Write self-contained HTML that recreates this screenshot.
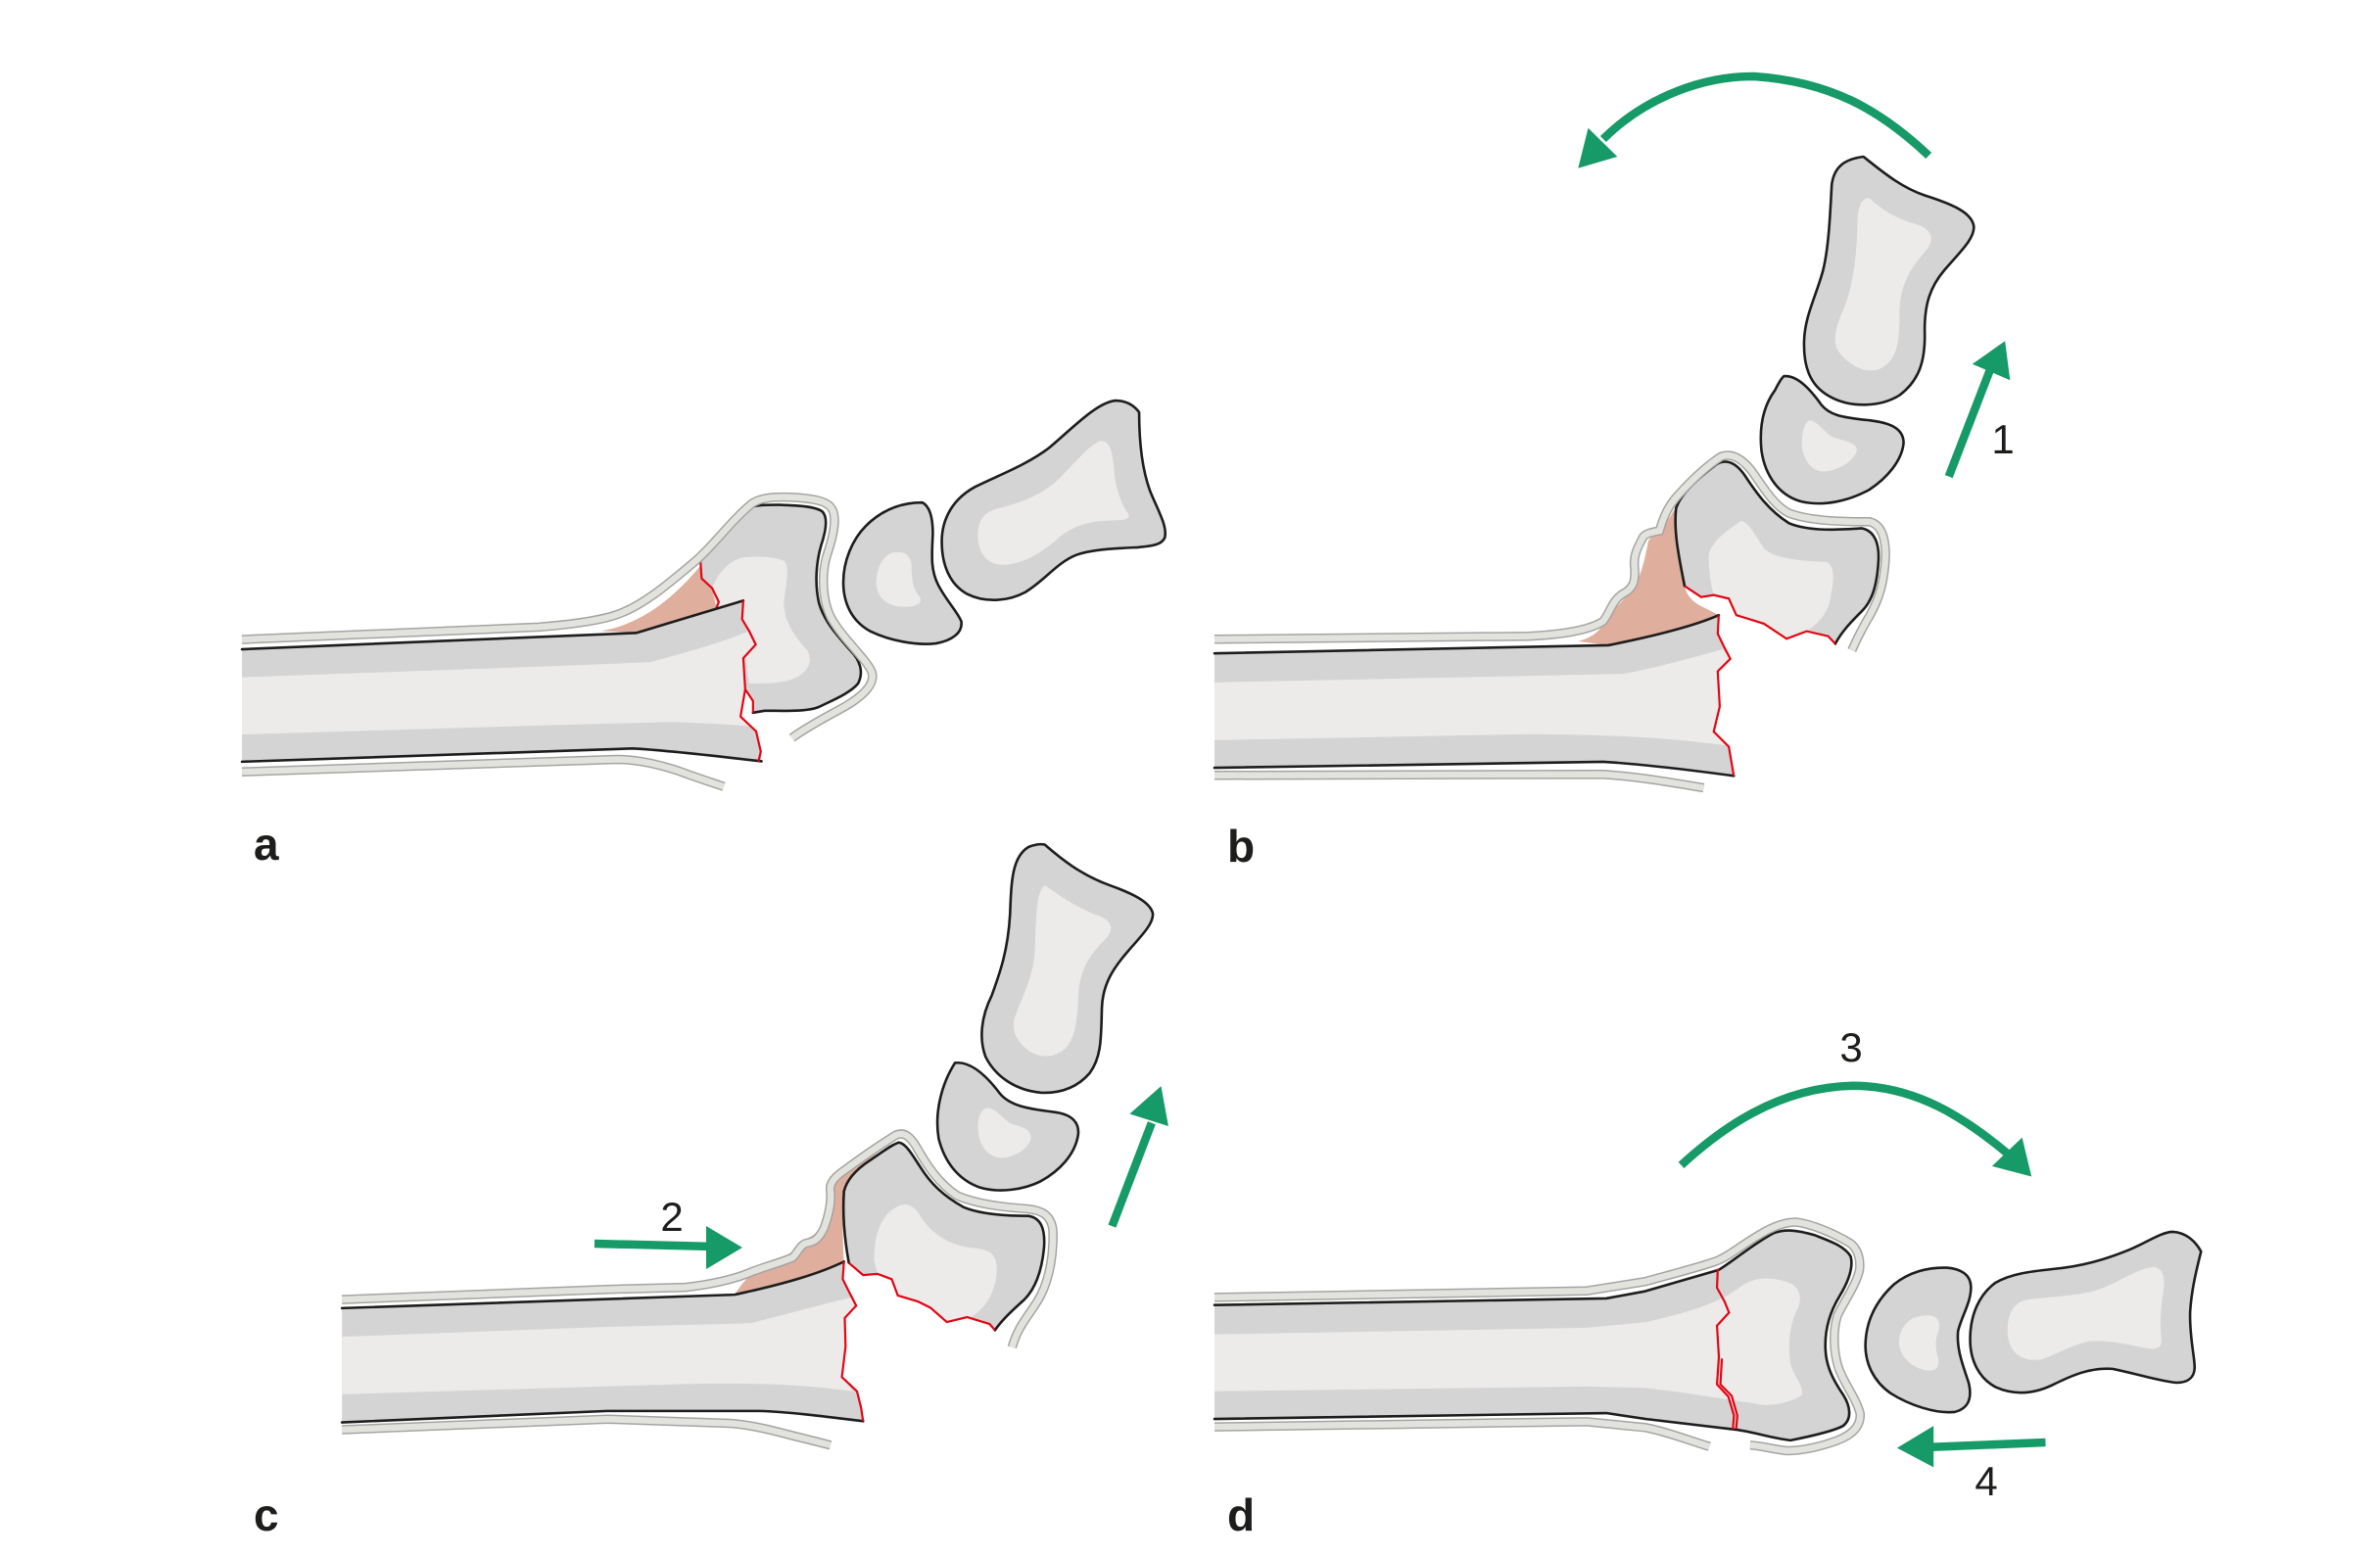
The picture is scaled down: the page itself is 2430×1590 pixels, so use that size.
<!DOCTYPE html>
<html><head><meta charset="utf-8"><style>
html,body{margin:0;padding:0;background:#fff;}
svg{display:block;}
.o{fill:#d5d4d5;stroke:none}
.i{fill:#ecebea;stroke:none}
.k{fill:none;stroke:#1d1d1b;stroke-width:2.6;stroke-linejoin:round;stroke-linecap:round;vector-effect:non-scaling-stroke}
.r{fill:none;stroke:#e30613;stroke-width:2.2;stroke-linejoin:miter;vector-effect:non-scaling-stroke}
.sg{fill:none;stroke:#a4a4a4;stroke-width:9.5;vector-effect:non-scaling-stroke}
.sl{fill:none;stroke:#e3e3de;stroke-width:6.5;vector-effect:non-scaling-stroke}
.p{fill:#dfae9c;stroke:none}
.g{fill:#169a67;stroke:none}
.gs{fill:none;stroke:#169a67;stroke-width:8.5;vector-effect:non-scaling-stroke}
.lb{font-family:"Liberation Sans",sans-serif;font-weight:bold;font-size:46px;fill:#1d1d1b}
.nm{font-family:"Liberation Sans",sans-serif;font-size:42px;fill:#1d1d1b;text-anchor:middle}
</style></head><body>
<svg width="2430" height="1590" viewBox="0 0 2430 1590" xmlns="http://www.w3.org/2000/svg">
<rect width="2430" height="1590" fill="#fff"/>

<!-- ===== Panel a ===== -->
<g transform="translate(590,390) scale(0.3974)">
  <path class="p" d="M60,640 C150,625 230,570 300,490 C340,445 370,405 395,370 L405,352 L315,460 L318,505 L345,530 L362,565 L352,592 L150,645 Z"/>
  <!-- fragment -->
  <path class="o" d="M315,460 C350,420 390,360 420,335 C440,318 460,315 520,316 C570,318 610,320 628,333 C645,350 635,390 625,420 C612,465 608,520 620,570 C635,620 670,655 700,690 C725,715 735,745 720,775 C700,800 650,820 620,835 C590,848 530,845 480,845 L450,850 L448,820 L436,798 L430,790 L425,700 L425,560 L352,592 L362,565 L345,530 L318,505 Z"/>
  <path class="i" d="M345,530 C360,490 390,460 420,452 C460,446 510,450 530,460 C545,475 535,520 530,560 C525,610 560,660 590,690 C605,720 590,745 560,760 C530,775 480,775 440,775 L430,700 L360,600 Z"/>
  <path class="k" d="M315,460 C350,420 390,360 420,335 C440,318 460,315 520,316 C570,318 610,320 628,333 C645,350 635,390 625,420 C612,465 608,520 620,570 C635,620 670,655 700,690 C725,715 735,745 720,775 C700,800 650,820 620,835 C590,848 530,845 480,845 L450,850"/>
  <path class="r" d="M315,460 L318,505 L345,530 L362,565 L352,592"/>
  <path class="r" d="M430,790 L440,805 L450,820 L450,850"/>
  <!-- shaft -->
  <path class="o" d="M-863,687 L150,645 L425,562 L422,610 L440,640 L457,675 L425,710 L430,790 L418,860 L458,898 L470,950 L472,975 C380,965 250,948 140,942 L-863,976 Z"/>
  <path class="i" d="M-863,759 L0,728 L185,720 C300,690 380,665 440,640 L457,675 L425,710 L430,790 L418,860 L444,885 C350,878 250,872 200,875 L0,880 L-863,906 Z"/>
  <path class="k" d="M-863,687 L150,645 L425,562"/>
  <path class="k" d="M-863,976 L140,942 C250,948 380,965 472,975"/>
  <path class="r" d="M425,562 L422,610 L440,640 L457,675 L425,710 L430,790 L418,860 L458,898 L470,950 L464,975"/>
  <!-- skin -->
  <path class="sg" d="M-863,662 L-100,630 C0,622 60,612 100,598 C160,578 220,530 300,462 C350,420 390,360 448,312 C470,298 500,294 560,297 C600,300 640,305 652,325 C668,350 655,400 640,445 C625,495 628,560 650,605 C680,660 740,710 755,745 C765,775 735,805 690,832 C650,855 590,885 550,915"/>
  <path class="sl" d="M-863,662 L-100,630 C0,622 60,612 100,598 C160,578 220,530 300,462 C350,420 390,360 448,312 C470,298 500,294 560,297 C600,300 640,305 652,325 C668,350 655,400 640,445 C625,495 628,560 650,605 C680,660 740,710 755,745 C765,775 735,805 690,832 C650,855 590,885 550,915"/>
  <path class="sg" d="M-863,1002 L100,970 C150,970 200,980 260,1000 C300,1015 340,1028 375,1040"/>
  <path class="sl" d="M-863,1002 L100,970 C150,970 200,980 260,1000 C300,1015 340,1028 375,1040"/>
  <!-- carpal -->
  <path class="o" d="M885,310 C905,320 912,350 912,390 C910,440 905,480 925,520 C945,560 975,590 985,615 C990,645 960,665 920,672 C870,678 800,665 750,640 C705,615 682,570 682,515 C682,460 705,405 740,370 C780,330 830,310 885,310 Z"/>
  <path class="i" d="M805,440 C830,432 855,440 857,470 C858,510 860,530 878,552 C888,568 870,578 840,578 C800,578 775,560 768,530 C762,490 780,450 805,440 Z"/>
  <path class="k" d="M885,310 C905,320 912,350 912,390 C910,440 905,480 925,520 C945,560 975,590 985,615 C990,645 960,665 920,672 C870,678 800,665 750,640 C705,615 682,570 682,515 C682,460 705,405 740,370 C780,330 830,310 885,310 Z"/>
  <!-- metacarpal -->
  <path class="o" d="M1380,48 C1410,48 1430,62 1442,78 C1442,150 1448,220 1470,280 C1490,330 1515,370 1508,400 C1500,420 1470,422 1440,425 C1380,428 1320,430 1280,445 C1230,465 1200,510 1150,540 C1110,562 1050,570 1000,545 C955,520 935,470 935,410 C935,350 965,300 1020,270 C1080,240 1150,215 1210,170 C1270,120 1330,55 1380,48 Z"/>
  <path class="i" d="M1345,152 C1370,152 1375,190 1378,230 C1382,280 1400,320 1415,340 C1418,355 1400,355 1370,356 C1310,358 1270,370 1230,405 C1190,440 1140,470 1090,470 C1050,468 1030,440 1028,400 C1026,360 1040,335 1080,325 C1130,312 1190,295 1240,245 C1280,205 1320,155 1345,152 Z"/>
  <path class="k" d="M1380,48 C1410,48 1430,62 1442,78 C1442,150 1448,220 1470,280 C1490,330 1515,370 1508,400 C1500,420 1470,422 1440,425 C1380,428 1320,430 1280,445 C1230,465 1200,510 1150,540 C1110,562 1050,570 1000,545 C955,520 935,470 935,410 C935,350 965,300 1020,270 C1080,240 1150,215 1210,170 C1270,120 1330,55 1380,48 Z"/>
</g>
<text class="lb" x="259" y="878">a</text>

<!-- ===== Panel b ===== -->
<g transform="translate(1560,60) scale(0.5128)">
  <path class="p" d="M100,1160 L160,1168 C250,1150 330,1130 380,1108 L345,1090 C325,1080 315,1065 312,1050 C300,990 290,940 295,895 L290,900 C275,930 250,945 240,960 C232,1000 225,1035 205,1060 C185,1085 165,1100 150,1125 C140,1145 120,1155 100,1160 Z"/>
  <!-- fragment -->
  <path class="o" d="M312,1050 C300,990 290,940 295,895 C305,865 340,835 375,808 C395,795 415,805 432,830 C455,865 480,900 520,925 C560,942 620,938 665,935 C690,940 700,965 698,1000 C695,1050 685,1080 665,1100 C645,1120 625,1140 612,1165 L598,1150 L555,1140 L515,1155 L470,1125 L415,1108 L400,1075 L370,1068 L345,1072 Z"/>
  <path class="i" d="M360,990 C362,970 380,950 425,920 C440,925 450,945 470,975 C490,995 540,1000 595,1002 C612,1010 610,1040 600,1085 C590,1115 570,1130 555,1140 L515,1155 L470,1125 L415,1108 L400,1075 L370,1068 C362,1040 360,1010 360,990 Z"/>
  <path class="k" d="M312,1050 C300,990 290,940 295,895 C305,865 340,835 375,808 C395,795 415,805 432,830 C455,865 480,900 520,925 C560,942 620,938 665,935 C690,940 700,965 698,1000 C695,1050 685,1080 665,1100 C645,1120 625,1140 612,1165"/>
  <path class="r" d="M612,1165 L598,1150 L555,1140 L515,1155 L470,1125 L415,1108 L400,1075 L370,1068 L345,1072 L312,1050"/>
  <!-- shaft -->
  <path class="o" d="M-624,1184 L160,1168 C250,1150 330,1130 380,1108 L378,1145 L390,1170 L403,1195 L378,1220 L382,1290 L370,1340 L400,1370 L410,1428 C300,1415 200,1402 150,1400 L-624,1412 Z"/>
  <path class="i" d="M-624,1242 L190,1225 C260,1212 330,1192 388,1176 L403,1195 L378,1220 L382,1290 L370,1340 L398,1368 C300,1355 200,1346 0,1345 L-624,1357 Z"/>
  <path class="k" d="M-624,1184 L160,1168 C250,1150 330,1130 380,1108"/>
  <path class="k" d="M-624,1412 L150,1400 C220,1404 320,1416 410,1428"/>
  <path class="r" d="M380,1108 L378,1145 L390,1170 L403,1195 L378,1220 L382,1290 L370,1340 L400,1370 L410,1428"/>
  <!-- skin -->
  <path class="sg" d="M-624,1156 L0,1150 C60,1147 120,1140 150,1120 C165,1100 168,1078 190,1065 C210,1055 215,1040 212,1010 C210,985 222,968 228,955 C232,945 250,942 262,940 C268,920 275,895 300,868 C330,835 360,808 385,792 C405,785 425,795 445,820 C470,855 490,890 520,905 C560,920 620,922 680,922 C705,928 712,955 712,990 C710,1040 700,1075 680,1110 C665,1135 655,1155 645,1178"/>
  <path class="sl" d="M-624,1156 L0,1150 C60,1147 120,1140 150,1120 C165,1100 168,1078 190,1065 C210,1055 215,1040 212,1010 C210,985 222,968 228,955 C232,945 250,942 262,940 C268,920 275,895 300,868 C330,835 360,808 385,792 C405,785 425,795 445,820 C470,855 490,890 520,905 C560,920 620,922 680,922 C705,928 712,955 712,990 C710,1040 700,1075 680,1110 C665,1135 655,1155 645,1178"/>
  <path class="sg" d="M-624,1427 L150,1425 C220,1430 280,1440 350,1452"/>
  <path class="sl" d="M-624,1427 L150,1425 C220,1430 280,1440 350,1452"/>
  <!-- carpal -->
  <path class="o" d="M510,632 C535,630 560,655 585,690 C600,708 620,714 680,720 C720,725 748,735 748,765 C745,800 715,835 680,858 C640,880 590,892 545,882 C500,870 472,830 465,780 C460,730 470,690 492,660 C498,648 505,635 510,632 Z"/>
  <path class="i" d="M562,720 C578,722 590,745 610,755 C635,762 655,765 655,780 C650,800 620,820 590,822 C565,822 550,800 546,775 C544,750 550,722 562,720 Z"/>
  <path class="k" d="M510,632 C535,630 560,655 585,690 C600,708 620,714 680,720 C720,725 748,735 748,765 C745,800 715,835 680,858 C640,880 590,892 545,882 C500,870 472,830 465,780 C460,730 470,690 492,660 C498,648 505,635 510,632 Z"/>
  <!-- metacarpal -->
  <path class="o" d="M668,195 C700,220 740,255 790,272 C840,288 885,305 888,335 C888,360 860,385 830,420 C800,455 790,490 790,540 C792,600 780,640 740,670 C700,695 640,695 600,672 C560,650 548,610 550,560 C552,510 575,470 588,420 C600,370 602,300 605,250 C610,215 630,200 668,195 Z"/>
  <path class="i" d="M680,278 C705,300 730,318 775,330 C805,340 812,360 790,385 C760,420 742,450 740,500 C740,560 738,600 700,618 C670,628 640,610 620,585 C605,565 612,535 628,500 C645,460 655,400 656,330 C656,295 665,275 680,278 Z"/>
  <path class="k" d="M668,195 C700,220 740,255 790,272 C840,288 885,305 888,335 C888,360 860,385 830,420 C800,455 790,490 790,540 C792,600 780,640 740,670 C700,695 640,695 600,672 C560,650 548,610 550,560 C552,510 575,470 588,420 C600,370 602,300 605,250 C610,215 630,200 668,195 Z"/>
  <!-- arrows -->
  <path class="gs" d="M798,193 C700,100 600,45 450,35 C330,35 220,90 150,160"/>
  <polygon class="g" points="100,218 120,138 178,195"/>
  <path class="gs" d="M838,832 L920,620"/>
  <polygon class="g" points="950,562 885,608 960,640"/>
</g>
<text class="nm" x="2045" y="463">1</text>
<text class="lb" x="1253" y="880">b</text>

<!-- ===== Panel c ===== -->
<g transform="translate(700,850) scale(0.4167)">
  <path class="p" d="M120,1133 C250,1105 330,1080 388,1052 C384,990 384,930 388,880 C395,850 420,825 450,805 L500,772 C440,800 390,830 362,860 C350,880 345,930 330,965 C320,990 295,995 280,1005 C270,1025 250,1040 200,1055 C170,1070 140,1100 120,1133 Z"/>
  <!-- fragment -->
  <path class="o" d="M400,1055 C390,1000 384,940 388,880 C395,850 420,825 450,805 C480,785 505,765 522,760 C540,762 555,790 575,820 C600,860 630,890 680,918 C720,935 780,940 840,940 C870,945 882,970 878,1020 C872,1080 855,1120 830,1145 C800,1172 775,1195 758,1220 L745,1205 L690,1188 L640,1200 L600,1165 L570,1150 L520,1135 L505,1095 L470,1082 L435,1085 Z"/>
  <path class="i" d="M462,1050 C462,1000 470,960 500,930 C530,905 555,905 575,940 C600,980 640,1010 700,1018 C745,1022 765,1030 762,1080 C758,1130 735,1165 700,1188 L640,1200 L600,1165 L570,1150 L520,1135 L505,1095 L470,1082 Z"/>
  <path class="k" d="M400,1055 C390,1000 384,940 388,880 C395,850 420,825 450,805 C480,785 505,765 522,760 C540,762 555,790 575,820 C600,860 630,890 680,918 C720,935 780,940 840,940 C870,945 882,970 878,1020 C872,1080 855,1120 830,1145 C800,1172 775,1195 758,1220"/>
  <path class="r" d="M758,1220 L745,1205 L690,1188 L640,1200 L600,1165 L570,1150 L520,1135 L505,1095 L470,1082 L435,1085 L400,1055"/>
  <!-- shaft -->
  <path class="o" d="M-842,1166 L120,1133 C250,1105 330,1080 388,1052 L385,1095 L400,1125 L418,1160 L390,1190 L392,1260 L383,1335 L420,1370 L430,1410 L435,1443 C330,1430 250,1420 180,1418 L-192,1418 L-842,1446 Z"/>
  <path class="i" d="M-842,1236 L-192,1212 L160,1203 C250,1180 330,1158 405,1140 L418,1160 L390,1190 L392,1260 L383,1335 L410,1370 C300,1355 200,1348 0,1352 L-842,1377 Z"/>
  <path class="k" d="M-842,1166 L120,1133 C250,1105 330,1080 388,1052"/>
  <path class="k" d="M-842,1446 L-192,1418 L180,1418 C250,1420 330,1430 435,1443"/>
  <path class="r" d="M388,1052 L385,1095 L400,1125 L418,1160 L390,1190 L392,1260 L383,1335 L420,1370 L430,1410 L435,1443"/>
  <!-- skin -->
  <path class="sg" d="M-842,1145 L-192,1120 L0,1115 C60,1108 120,1095 162,1077 C190,1066 230,1055 262,1042 C275,1030 280,1012 295,1007 C310,1004 325,1002 340,968 C350,940 358,905 355,880 C352,865 360,850 380,835 C420,805 470,770 515,742 C535,733 550,745 565,770 C590,815 620,860 665,890 C710,910 770,918 830,922 C870,925 895,935 900,975 C902,1030 893,1090 870,1135 C850,1175 815,1205 800,1262"/>
  <path class="sl" d="M-842,1145 L-192,1120 L0,1115 C60,1108 120,1095 162,1077 C190,1066 230,1055 262,1042 C275,1030 280,1012 295,1007 C310,1004 325,1002 340,968 C350,940 358,905 355,880 C352,865 360,850 380,835 C420,805 470,770 515,742 C535,733 550,745 565,770 C590,815 620,860 665,890 C710,910 770,918 830,922 C870,925 895,935 900,975 C902,1030 893,1090 870,1135 C850,1175 815,1205 800,1262"/>
  <path class="sg" d="M-842,1464 L-192,1438 L100,1448 C150,1450 200,1462 260,1478 C300,1488 330,1495 355,1502"/>
  <path class="sl" d="M-842,1464 L-192,1438 L100,1448 C150,1450 200,1462 260,1478 C300,1488 330,1495 355,1502"/>
  <!-- carpal -->
  <path class="o" d="M660,565 C700,560 740,600 770,640 C795,670 840,678 900,685 C945,690 965,710 962,740 C955,790 915,830 870,855 C830,875 770,885 720,870 C670,852 635,810 620,750 C610,690 625,620 660,565 Z"/>
  <path class="i" d="M740,675 C765,678 778,705 800,715 C830,722 848,730 846,750 C840,775 810,795 775,798 C740,795 722,770 717,735 C714,705 720,680 740,675 Z"/>
  <path class="k" d="M660,565 C700,560 740,600 770,640 C795,670 840,678 900,685 C945,690 965,710 962,740 C955,790 915,830 870,855 C830,875 770,885 720,870 C670,852 635,810 620,750 C610,690 625,620 660,565 Z"/>
  <!-- metacarpal -->
  <path class="o" d="M880,30 C920,65 970,105 1040,130 C1090,148 1140,170 1145,200 C1145,225 1120,250 1085,290 C1050,330 1022,370 1020,430 C1018,500 1020,550 990,590 C960,625 920,640 870,638 C810,632 760,600 735,550 C718,505 725,450 750,400 C770,345 790,290 795,200 C798,120 800,60 840,36 C855,30 870,28 880,30 Z"/>
  <path class="i" d="M880,130 C910,150 950,180 1000,200 C1040,212 1055,232 1030,260 C995,295 968,330 963,390 C960,450 958,500 930,530 C905,552 870,555 840,535 C815,515 798,490 805,460 C815,420 848,370 855,300 C860,230 855,150 880,130 Z"/>
  <path class="k" d="M880,30 C920,65 970,105 1040,130 C1090,148 1140,170 1145,200 C1145,225 1120,250 1085,290 C1050,330 1022,370 1020,430 C1018,500 1020,550 990,590 C960,625 920,640 870,638 C810,632 760,600 735,550 C718,505 725,450 750,400 C770,345 790,290 795,200 C798,120 800,60 840,36 C855,30 870,28 880,30 Z"/>
  <!-- arrow up -->
  <path class="gs" d="M1045,965 L1142,712"/>
  <polygon class="g" points="1165,622 1088,690 1183,720"/>
</g>
<!-- arrow 2 -->
<path class="gs" d="M607,1270 L730,1273"/>
<polygon class="g" points="758,1274 721,1252 721,1296"/>
<text class="nm" x="686" y="1257">2</text>
<text class="lb" x="259" y="1563">c</text>

<!-- ===== Panel d ===== -->
<g transform="translate(1680,1040) scale(0.3846,0.3526)">
  <!-- bone -->
  <path class="o" d="M-1144,830 L-104,811 L0,790 L195,728 C230,705 290,650 340,622 C370,610 400,612 450,628 C490,645 530,660 545,690 C552,720 540,760 515,805 C490,850 475,900 478,960 C480,1010 500,1050 525,1090 C545,1125 548,1160 525,1180 C500,1195 440,1210 385,1222 C330,1215 280,1195 232,1190 L0,1160 L-104,1143 L-1144,1160 Z"/>
  <path class="i" d="M-1144,915 L-156,896 L0,880 C100,855 200,825 255,775 C290,748 340,745 390,770 C415,790 415,820 400,850 C382,890 378,950 385,1000 C395,1040 420,1060 415,1090 C400,1105 360,1118 320,1120 C250,1110 150,1090 0,1070 L-156,1066 L-1144,1080 Z"/>
  <path class="k" d="M-1144,830 L-104,811 L0,790 L195,728 C230,705 290,650 340,622 C370,610 400,612 450,628 C490,645 530,660 545,690 C552,720 540,760 515,805 C490,850 475,900 478,960 C480,1010 500,1050 525,1090 C545,1125 548,1160 525,1180 C500,1195 440,1210 385,1222 C330,1215 280,1195 232,1190 L0,1160 L-104,1143 L-1144,1160"/>
  <path class="r" d="M192,725 L190,780 L210,820 L222,852 L190,890 L195,980 L190,1060 L220,1095 L235,1150 L232,1190"/>
  <path class="r" d="M203,985 L199,1060 L229,1093 L244,1150 L241,1188"/>
  <!-- skin -->
  <path class="sg" d="M-1144,808 L-156,789 L0,762 C100,732 160,715 190,702 C220,690 250,660 305,625 C340,602 370,590 400,590 C440,595 500,622 545,652 C565,670 572,700 568,730 C560,770 530,815 510,860 C498,900 498,960 512,1010 C528,1060 560,1100 570,1145 C572,1180 550,1205 510,1222 C470,1238 420,1252 375,1252 C340,1248 310,1238 278,1236"/>
  <path class="sl" d="M-1144,808 L-156,789 L0,762 C100,732 160,715 190,702 C220,690 250,660 305,625 C340,602 370,590 400,590 C440,595 500,622 545,652 C565,670 572,700 568,730 C560,770 530,815 510,860 C498,900 498,960 512,1010 C528,1060 560,1100 570,1145 C572,1180 550,1205 510,1222 C470,1238 420,1252 375,1252 C340,1248 310,1238 278,1236"/>
  <path class="sg" d="M-1144,1183 L-156,1168 L0,1185 C60,1198 110,1220 170,1240"/>
  <path class="sl" d="M-1144,1183 L-156,1168 L0,1185 C60,1198 110,1220 170,1240"/>
  <!-- carpal -->
  <path class="o" d="M800,722 C835,725 862,740 864,775 C866,820 840,860 830,905 C825,960 845,1010 858,1055 C868,1100 858,1130 820,1140 C770,1145 700,1120 650,1085 C605,1050 585,1000 584,950 C584,880 610,820 660,770 C700,735 750,720 800,722 Z"/>
  <path class="i" d="M750,860 C775,860 785,880 778,905 C770,930 768,950 776,980 C782,1005 775,1022 750,1020 C715,1015 685,990 675,955 C668,915 685,885 710,868 C725,862 740,860 750,860 Z"/>
  <path class="k" d="M800,722 C835,725 862,740 864,775 C866,820 840,860 830,905 C825,960 845,1010 858,1055 C868,1100 858,1130 820,1140 C770,1145 700,1120 650,1085 C605,1050 585,1000 584,950 C584,880 610,820 660,770 C700,735 750,720 800,722 Z"/>
  <!-- metacarpal -->
  <path class="o" d="M1400,618 C1435,620 1460,645 1475,675 C1465,720 1450,780 1446,850 C1444,920 1458,980 1458,1010 C1458,1040 1440,1055 1410,1055 C1370,1052 1300,1028 1240,1015 C1180,1010 1130,1035 1080,1062 C1030,1088 980,1092 930,1068 C885,1042 862,990 862,930 C862,860 885,800 930,765 C970,740 1020,733 1080,726 C1160,718 1220,698 1280,672 C1330,650 1370,618 1400,618 Z"/>
  <path class="i" d="M1350,720 C1375,725 1380,750 1375,790 C1368,840 1365,890 1370,930 C1372,955 1355,960 1330,955 C1280,945 1230,930 1180,935 C1130,945 1090,975 1050,988 C1000,995 968,970 962,920 C958,860 975,825 1010,815 C1060,808 1130,805 1190,790 C1250,770 1300,725 1350,720 Z"/>
  <path class="k" d="M1400,618 C1435,620 1460,645 1475,675 C1465,720 1450,780 1446,850 C1444,920 1458,980 1458,1010 C1458,1040 1440,1055 1410,1055 C1370,1052 1300,1028 1240,1015 C1180,1010 1130,1035 1080,1062 C1030,1088 980,1092 930,1068 C885,1042 862,990 862,930 C862,860 885,800 930,765 C970,740 1020,733 1080,726 C1160,718 1220,698 1280,672 C1330,650 1370,618 1400,618 Z"/>
  <!-- arrows -->
  <path class="gs" d="M95,425 C200,320 350,200 550,195 C720,195 850,290 962,392"/>
  <polygon class="g" points="1025,458 920,428 1000,345"/>
  <path class="gs" d="M1062,1228 L750,1242"/>
  <polygon class="g" points="668,1244 765,1180 765,1300"/>
</g>
<text class="nm" x="1890" y="1084">3</text>
<text class="nm" x="2028" y="1527">4</text>
<text class="lb" x="1253" y="1563">d</text>
</svg>
</body></html>
